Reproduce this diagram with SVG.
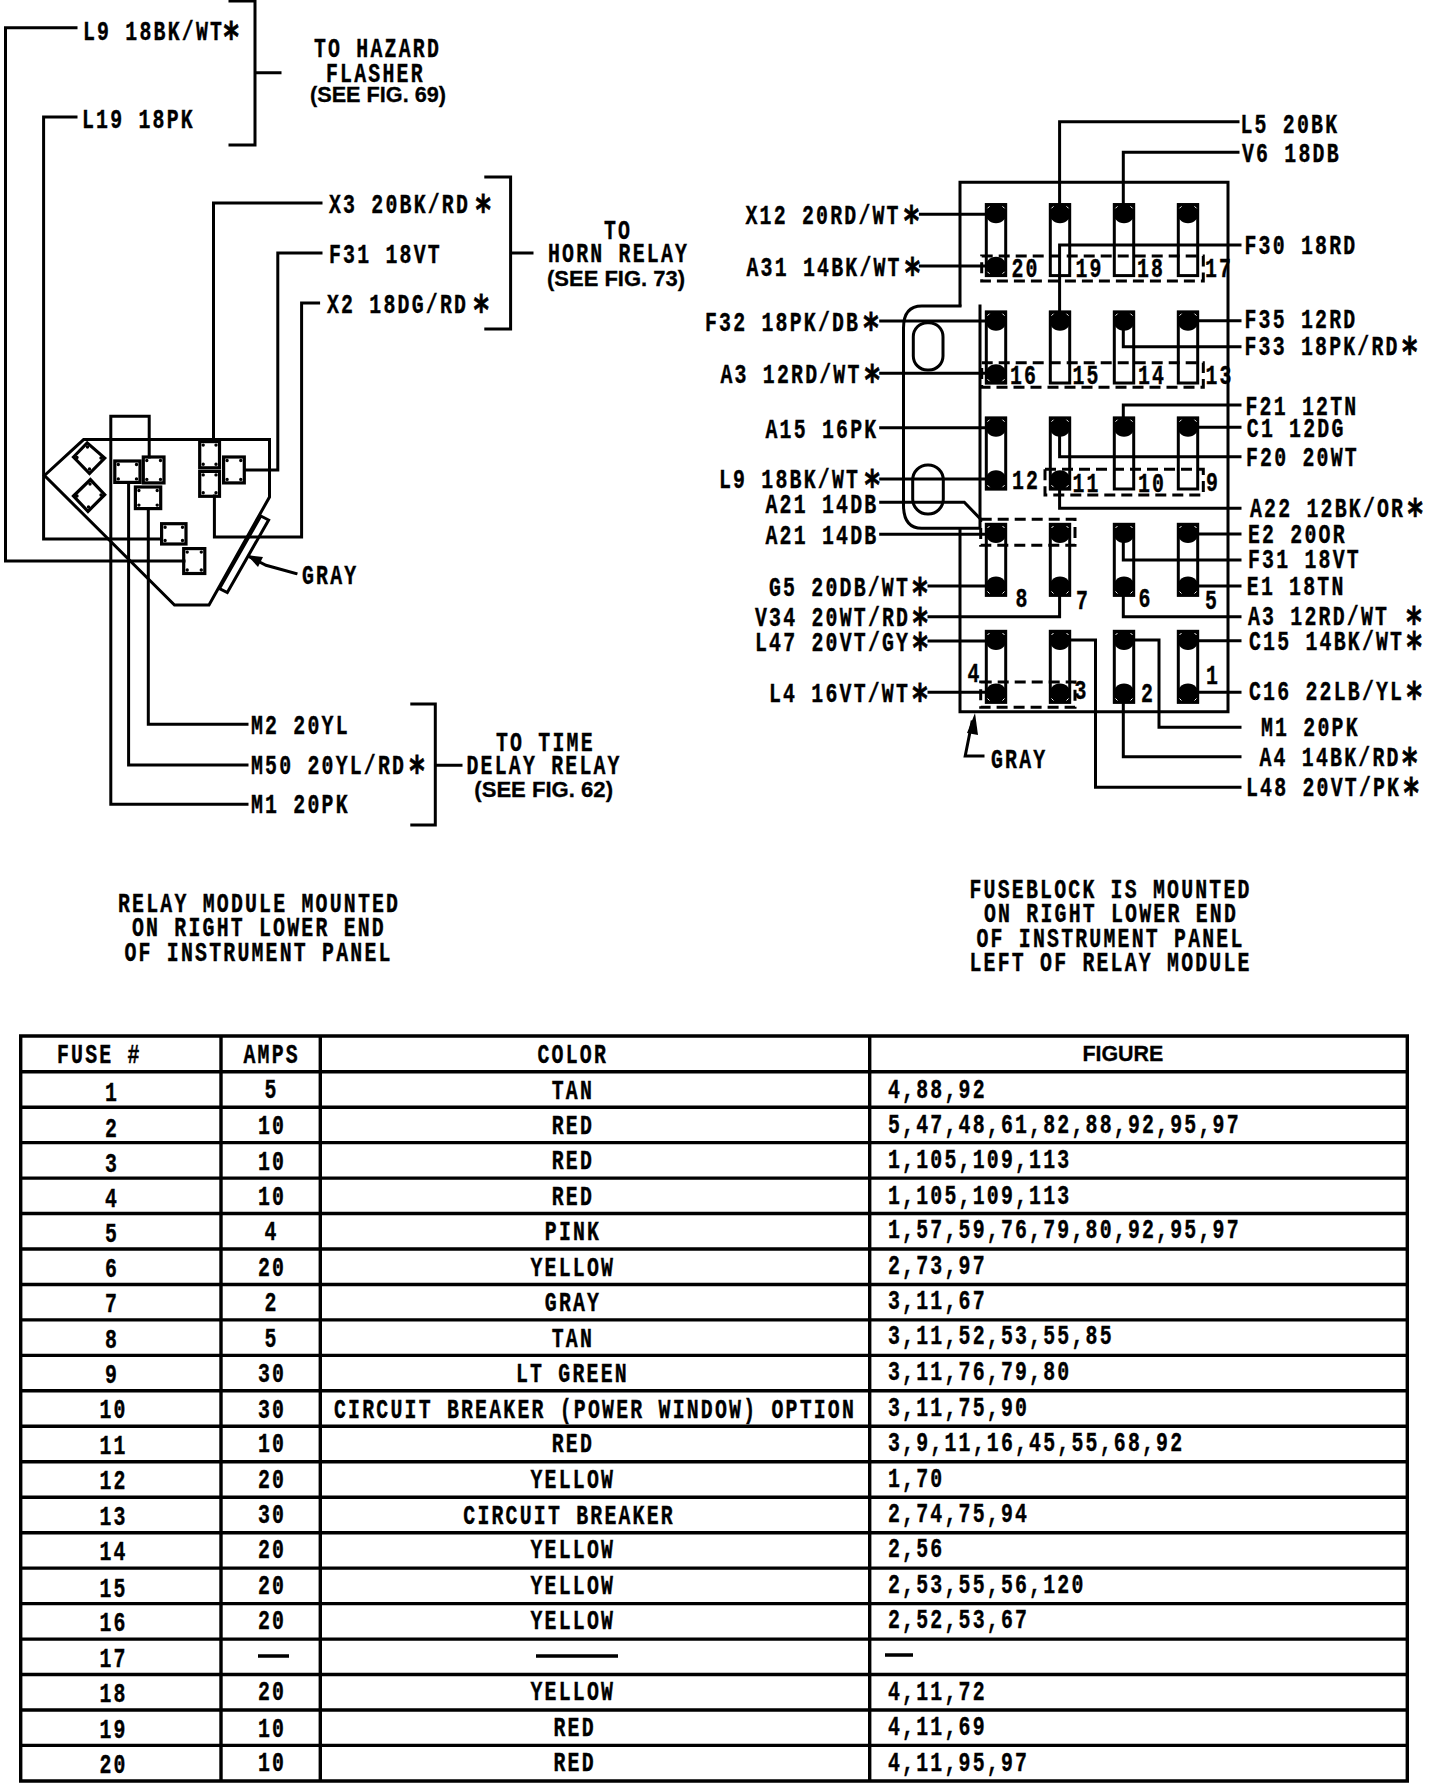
<svg xmlns="http://www.w3.org/2000/svg" width="1440" height="1784" viewBox="0 0 1440 1784">
<style>
.w{fill:none;stroke:#000;stroke-width:3;stroke-linejoin:miter;stroke-linecap:square}
.d{fill:none;stroke:#000;stroke-width:3;stroke-dasharray:11 6}
.b{fill:none;stroke:#000;stroke-width:3.2}
.n{fill:none;stroke:#000;stroke-width:3.4;stroke-linecap:round}
.f{fill:#000}
.tl{fill:none;stroke:#000;stroke-width:3.4}
text{fill:#000;white-space:pre}
.m{font-family:"Liberation Mono",monospace;font-weight:700;font-size:27px;letter-spacing:3px;stroke:#000;stroke-width:.4}
.m text{transform-box:fill-box;transform-origin:0 0;transform:translateX(1px) scaleX(.735)}
.m text.s{font-family:"Liberation Sans",Arial,sans-serif;font-size:22px;letter-spacing:0;stroke-width:.3;transform:none}
.a{font-family:"DejaVu Sans",sans-serif;font-size:40px;stroke-width:.7}
</style>
<defs>
<rect id="fz" x="1.3" y="1.3" width="19.4" height="71" class="w"/>
<g id="top"><path d="M0 0h22v9a11 11 0 0 1-22 0z" class="f"/><path d="M2.5 5l2-2M19.500 5l-2-2" stroke="#fff" stroke-width="1"/></g>
<g id="bot"><path d="M0 73.500h22v-9a11 11 0 0 0-22 0z" class="f"/><path d="M2.500 68.500l2 2M19.500 68.500l-2 2" stroke="#fff" stroke-width="1"/></g>
</defs>
<rect width="1440" height="1784" fill="#fff"/>

<g id="connectors">
<path class="w" d="M76 27.800H5.500V561H184"/>
<path class="w" d="M76 117H43.600V539H161"/>
<path class="w" d="M321 203H213.500V441"/>
<path class="w" d="M321 253H277.800V470H245.600"/>
<path class="w" d="M318.600 303H301.600V537H214.400V496"/>
<path class="w" d="M149.200 457V416.300H110.800V804.300H247"/>
<path class="w" d="M128.600 482.400V765H247"/>
<path class="w" d="M148.300 508.600V724.300H247"/>
<path class="w" d="M230 1H255V145H230M255 72.700H280"/>
<path class="w" d="M485.800 177H510.600V329H485.800M510.600 253H532"/>
<path class="w" d="M411.800 704H435.300V825H411.800M435.300 765.300H461"/>
<path class="w" d="M296 573.500L266 565.300L250 557"/>
<path class="f" d="M247 555L263 557L258 567z"/>
<path class="w" d="M1238 121.700H1059.600V203"/>
<path class="w" d="M1238 152.300H1123.300V203"/>
<path class="w" d="M1240 245H1059.600V311"/>
<path class="w" d="M1188 320.700H1240"/>
<path class="w" d="M1123.300 325V346.700H1240"/>
<path class="w" d="M1123.300 417V405H1240"/>
<path class="w" d="M1188 427.300H1240"/>
<path class="w" d="M1059.600 430V456.700H1240"/>
<path class="w" d="M1059.600 485V508.300H1240"/>
<path class="w" d="M1188 534H1240"/>
<path class="w" d="M1123.300 535V560H1240"/>
<path class="w" d="M1188 586H1240"/>
<path class="w" d="M1123.300 597V616.700H1240"/>
<path class="w" d="M1188 640.700H1240"/>
<path class="w" d="M1188 692.300H1240"/>
<path class="w" d="M1134 640H1159V727.300H1240"/>
<path class="w" d="M1123.300 704V756.700H1240"/>
<path class="w" d="M1070.500 640H1095.500V787.300H1240"/>
<path class="w" d="M920.400 214.300H985"/>
<path class="w" d="M920.400 266H985"/>
<path class="w" d="M880.700 321H985"/>
<path class="w" d="M880.700 373.300H985"/>
<path class="w" d="M880.700 427.700H985"/>
<path class="w" d="M880.700 479H985"/>
<path class="w" d="M880.700 502.300H964.300L980.800 519.300"/>
<path class="w" d="M880.700 534.300H985"/>
<path class="w" d="M929 586H985"/>
<path class="w" d="M929 616.700H1059.600V597"/>
<path class="w" d="M929 641H985"/>
<path class="w" d="M929 692.300H985"/>
<path class="w" d="M983 756H965.200L972 722"/>
<path class="f" d="M975 713L978 735L967 733z"/>
</g>

<g id="relay-module">
<path class="w" d="M83.600 439.600H269.500V497L209 605H174.500L44.500 475.500z"/>
<path class="w" d="M260.800 516L268.600 520L227.300 592.600L219.500 588.600z"/>
<path class="b" d="M73.500 457L87.200 442.900L104.700 458L89.500 473.500z"/>
<path class="b" d="M73.500 496L90.400 479.600L104.700 494.700L88 511.400z"/>
<rect class="b" x="114.800" y="461" width="25.200" height="21.400"/>
<rect class="b" x="143.300" y="457" width="20.700" height="25.900"/>
<rect class="b" x="135.400" y="487" width="25.300" height="21.600"/>
<rect class="b" x="161.600" y="523.700" width="24.400" height="20.300"/>
<rect class="b" x="183.700" y="548.600" width="21.100" height="24.900"/>
<rect class="b" x="199.700" y="441.600" width="19.800" height="26.200"/>
<rect class="b" x="199.700" y="471.400" width="19.800" height="24.900"/>
<rect class="b" x="223.600" y="457" width="20.700" height="25.900"/>
<path class="n" d="M118.300 464.500h0M136.500 464.500h0M118.300 478.900h0M136.500 478.900h0M146.800 460.500h0M160.500 460.500h0M146.800 479.400h0M160.500 479.400h0M138.900 490.500h0M157.200 490.500h0M138.900 505.100h0M157.200 505.100h0M165.100 527.200h0M182.500 527.200h0M165.100 540.500h0M182.500 540.500h0M187.200 552.100h0M201.300 552.100h0M187.200 570h0M201.300 570h0M203.200 445.100h0M216 445.100h0M203.200 464.300h0M216 464.300h0M203.200 474.900h0M216 474.900h0M203.200 492.800h0M216 492.800h0M227.100 460.500h0M240.800 460.500h0M227.100 479.400h0M240.800 479.400h0M77 457.500h0M87.500 447h0M101 458h0M89.500 469h0M77 496h0M90 484h0M101 495h0M88.500 507h0"/>
</g>

<g id="fuse-block">
<path class="w" d="M960 305V182.300H1228V711.700H960V530"/>
<path class="w" d="M960 306H921.800Q903.500 306 903.500 328V505Q903.500 528.300 921.700 528.300H980V306"/>
<rect class="w" x="913.300" y="322.700" width="29.700" height="47.300" rx="14"/>
<rect class="w" x="912.700" y="465" width="30.600" height="49" rx="15"/>
<rect class="d" x="981.700" y="256" width="221.600" height="25"/>
<rect class="d" x="981.700" y="362.700" width="221.600" height="24.600"/>
<rect class="d" x="1045" y="469.300" width="158.300" height="25.700"/>
<rect class="d" x="980.700" y="519.300" width="94.300" height="26"/>
<rect class="d" x="980.700" y="682" width="94.300" height="25.300"/>
</g>
<g id="fuse-20" transform="translate(985 203.300)"><use href="#fz"/><use href="#top"/><use href="#bot"/></g>
<g id="fuse-19" transform="translate(1049 203.300)"><use href="#fz"/><use href="#top"/></g>
<g id="fuse-18" transform="translate(1113 203.300)"><use href="#fz"/><use href="#top"/></g>
<g id="fuse-17" transform="translate(1177 203.300)"><use href="#fz"/><use href="#top"/></g>
<g id="fuse-16" transform="translate(985 310.700)"><use href="#fz"/><use href="#top"/><use href="#bot"/></g>
<g id="fuse-15" transform="translate(1049 310.700)"><use href="#fz"/><use href="#top"/></g>
<g id="fuse-14" transform="translate(1113 310.700)"><use href="#fz"/><use href="#top"/></g>
<g id="fuse-13" transform="translate(1177 310.700)"><use href="#fz"/><use href="#top"/></g>
<g id="fuse-12" transform="translate(985 416.700)"><use href="#fz"/><use href="#top"/><use href="#bot"/></g>
<g id="fuse-11" transform="translate(1049 416.700)"><use href="#fz"/><use href="#top"/><use href="#bot"/></g>
<g id="fuse-10" transform="translate(1113 416.700)"><use href="#fz"/><use href="#top"/></g>
<g id="fuse-9" transform="translate(1177 416.700)"><use href="#fz"/><use href="#top"/></g>
<g id="fuse-8" transform="translate(985 523)"><use href="#fz"/><use href="#top"/><use href="#bot"/></g>
<g id="fuse-7" transform="translate(1049 523)"><use href="#fz"/><use href="#top"/><use href="#bot"/></g>
<g id="fuse-6" transform="translate(1113 523)"><use href="#fz"/><use href="#top"/><use href="#bot"/></g>
<g id="fuse-5" transform="translate(1177 523)"><use href="#fz"/><use href="#top"/><use href="#bot"/></g>
<g id="fuse-4" transform="translate(985 630)"><use href="#fz"/><use href="#top"/><use href="#bot"/></g>
<g id="fuse-3" transform="translate(1049 630)"><use href="#fz"/><use href="#top"/><use href="#bot"/></g>
<g id="fuse-2" transform="translate(1113 630)"><use href="#fz"/><use href="#top"/><use href="#bot"/></g>
<g id="fuse-1" transform="translate(1177 630)"><use href="#fz"/><use href="#top"/><use href="#bot"/></g>

<g id="labels" class="m">
<text x="82" y="39.600">L9 18BK/WT<tspan class="a" dx="-1" dy="11">*</tspan></text>
<text x="81" y="127.800">L19 18PK</text>
<text x="313" y="57">TO HAZARD</text>
<text x="325" y="81.600">FLASHER</text>
<text class="s" x="310" y="102" textLength="136" lengthAdjust="spacingAndGlyphs">(SEE FIG. 69)</text>
<text x="328" y="213">X3 20BK/RD <tspan class="a" dx="-12" dy="11">*</tspan></text>
<text x="328" y="263">F31 18VT</text>
<text x="326" y="313">X2 18DG/RD <tspan class="a" dx="-12" dy="11">*</tspan></text>
<text x="603" y="238.800">TO</text>
<text x="547" y="262.400">HORN RELAY</text>
<text class="s" x="547" y="285.700" textLength="138" lengthAdjust="spacingAndGlyphs">(SEE FIG. 73)</text>
<text x="301" y="584.500">GRAY</text>
<text x="250" y="734.300">M2 20YL</text>
<text x="250" y="774.300">M50 20YL/RD<tspan class="a" dx="4" dy="11">*</tspan></text>
<text x="250" y="813.300">M1 20PK</text>
<text x="495" y="750.700">TO TIME</text>
<text x="465.500" y="774.300">DELAY RELAY</text>
<text class="s" x="474.300" y="796.700" textLength="138.700" lengthAdjust="spacingAndGlyphs">(SEE FIG. 62)</text>
<text x="117" y="911.700">RELAY MODULE MOUNTED</text>
<text x="131" y="936">ON RIGHT LOWER END</text>
<text x="123.500" y="960.700">OF INSTRUMENT PANEL</text>

<text x="1239.500" y="132.700">L5 20BK</text>
<text x="1241" y="162.300">V6 18DB</text>
<text x="1243.500" y="254">F30 18RD</text>
<text x="1243.500" y="328.300">F35 12RD</text>
<text x="1243.500" y="355">F33 18PK/RD<tspan class="a" dx="3" dy="11">*</tspan></text>
<text x="1244.500" y="415">F21 12TN</text>
<text x="1245.800" y="437.300">C1 12DG</text>
<text x="1245" y="466">F20 20WT</text>
<text x="1249" y="516.700">A22 12BK/OR<tspan class="a" dx="3" dy="11">*</tspan></text>
<text x="744.500" y="224">X12 20RD/WT<tspan class="a" dx="4" dy="11">*</tspan></text>
<text x="745.500" y="275.700">A31 14BK/WT<tspan class="a" dx="4" dy="11">*</tspan></text>
<text x="704" y="330.700">F32 18PK/DB<tspan class="a" dx="4" dy="11">*</tspan></text>
<text x="719.500" y="382.700">A3 12RD/WT<tspan class="a" dx="4" dy="11">*</tspan></text>
<text x="764.500" y="438">A15 16PK</text>
<text x="718" y="488">L9 18BK/WT<tspan class="a" dx="6" dy="11">*</tspan></text>
<text x="764.500" y="513.300">A21 14DB</text>
<text x="764.500" y="544.300">A21 14DB</text>
<text x="768" y="595.700">G5 20DB/WT<tspan class="a" dx="3" dy="11">*</tspan></text>
<text x="754" y="626">V34 20WT/RD<tspan class="a" dx="3" dy="11">*</tspan></text>
<text x="754" y="651">L47 20VT/GY<tspan class="a" dx="3" dy="11">*</tspan></text>
<text x="768" y="702.300">L4 16VT/WT<tspan class="a" dx="3" dy="11">*</tspan></text>
<text x="1247" y="543.300">E2 20OR</text>
<text x="1247" y="568.300">F31 18VT</text>
<text x="1245.800" y="595">E1 18TN</text>
<text x="1247" y="625">A3 12RD/WT <tspan class="a" dx="4" dy="11">*</tspan></text>
<text x="1248" y="650">C15 14BK/WT<tspan class="a" dx="3" dy="11">*</tspan></text>
<text x="1248" y="700">C16 22LB/YL<tspan class="a" dx="3" dy="11">*</tspan></text>
<text x="1260" y="735.700">M1 20PK</text>
<text x="1258.500" y="765.700">A4 14BK/RD<tspan class="a" dx="2" dy="11">*</tspan></text>
<text x="1245" y="795.700">L48 20VT/PK<tspan class="a" dx="3" dy="11">*</tspan></text>
<text x="990" y="768.300">GRAY</text>
<text x="968.500" y="898.300">FUSEBLOCK IS MOUNTED</text>
<text x="983" y="922.300">ON RIGHT LOWER END</text>
<text x="975.500" y="946.700">OF INSTRUMENT PANEL</text>
<text x="968.500" y="970.700">LEFT OF RELAY MODULE</text>
</g>

<g id="fuse-numbers" class="m">
<text x="1010.500" y="277.300">20</text>
<text x="1074.500" y="277.300">19</text>
<text x="1136" y="277.300">18</text>
<text x="1204" y="277.300">17</text>
<text x="1009" y="384.300">16</text>
<text x="1071.500" y="384.300">15</text>
<text x="1137" y="384.300">14</text>
<text x="1204.500" y="384.300">13</text>
<text x="1011" y="489">12</text>
<text x="1071.500" y="491.700">11</text>
<text x="1137" y="491.700">10</text>
<text x="1205" y="490.700">9</text>
<text x="1014.500" y="607.300">8</text>
<text x="1075" y="609">7</text>
<text x="1137.500" y="607.300">6</text>
<text x="1204" y="609.300">5</text>
<text x="966.500" y="681.700">4</text>
<text x="1073.500" y="699.300">3</text>
<text x="1140" y="701.700">2</text>
<text x="1205" y="684">1</text>
</g>

<g id="table">
<path class="tl" d="M20.700 1036H1407.300V1781H20.700zM221 1036V1781M320.300 1036V1781M869.700 1036V1781"/>
<path class="tl" d="M20.700 1071.700H1407.300M20.700 1107.200H1407.300M20.700 1142.600H1407.300M20.700 1178.100H1407.300M20.700 1213.500H1407.300M20.700 1249H1407.300M20.700 1284.500H1407.300M20.700 1319.900H1407.300M20.700 1355.400H1407.300M20.700 1390.800H1407.300M20.700 1426.300H1407.300M20.700 1461.800H1407.300M20.700 1497.200H1407.300M20.700 1532.700H1407.300M20.700 1568.100H1407.300M20.700 1603.600H1407.300M20.700 1639.100H1407.300M20.700 1674.500H1407.300M20.700 1710H1407.300M20.700 1745.400H1407.300"/>
<path class="tl" d="M258 1656H289M536 1656H618M885 1655H913"/>
<g class="m">
<text x="56" y="1063.300">FUSE #</text>
<text x="242.500" y="1063.300">AMPS</text>
<text x="536.500" y="1063.300">COLOR</text>
<text class="s" x="1082.400" y="1060.700" textLength="81" lengthAdjust="spacingAndGlyphs">FIGURE</text>
<text x="104" y="1101">1</text>
<text x="104" y="1136.700">2</text>
<text x="104" y="1171.700">3</text>
<text x="104" y="1206.700">4</text>
<text x="104" y="1241.700">5</text>
<text x="104" y="1277">6</text>
<text x="104" y="1312">7</text>
<text x="104" y="1348">8</text>
<text x="104" y="1383.300">9</text>
<text x="98.500" y="1418.300">10</text>
<text x="98.500" y="1454.300">11</text>
<text x="98.500" y="1489.300">12</text>
<text x="98.500" y="1525">13</text>
<text x="98.500" y="1560">14</text>
<text x="98.500" y="1596.700">15</text>
<text x="98.500" y="1631">16</text>
<text x="98.500" y="1666.700">17</text>
<text x="98.500" y="1702.300">18</text>
<text x="98.500" y="1737.700">19</text>
<text x="98.500" y="1772.700">20</text>
<text x="263.500" y="1098.300">5</text>
<text x="257" y="1134.300">10</text>
<text x="257" y="1169.700">10</text>
<text x="257" y="1205">10</text>
<text x="263.500" y="1240">4</text>
<text x="257" y="1276">20</text>
<text x="263.500" y="1311">2</text>
<text x="263.500" y="1346.700">5</text>
<text x="257" y="1382.300">30</text>
<text x="257" y="1418.300">30</text>
<text x="257" y="1452.300">10</text>
<text x="257" y="1488.300">20</text>
<text x="257" y="1522.700">30</text>
<text x="257" y="1558.300">20</text>
<text x="257" y="1594.300">20</text>
<text x="257" y="1629.300">20</text>
<text x="257" y="1700">20</text>
<text x="257" y="1736.700">10</text>
<text x="257" y="1771">10</text>
<text x="550.700" y="1098.700">TAN</text>
<text x="550.700" y="1134.300">RED</text>
<text x="550.700" y="1169.300">RED</text>
<text x="550.700" y="1204.700">RED</text>
<text x="543.800" y="1240">PINK</text>
<text x="529.500" y="1275.700">YELLOW</text>
<text x="543.800" y="1311">GRAY</text>
<text x="550.700" y="1346.700">TAN</text>
<text x="515" y="1381.700">LT GREEN</text>
<text x="333" y="1418.300">CIRCUIT BREAKER (POWER WINDOW) OPTION</text>
<text x="550.700" y="1452.300">RED</text>
<text x="529.500" y="1487.700">YELLOW</text>
<text x="462.300" y="1524.300">CIRCUIT BREAKER</text>
<text x="529.500" y="1558.300">YELLOW</text>
<text x="529.500" y="1593.700">YELLOW</text>
<text x="529.500" y="1629">YELLOW</text>
<text x="529.500" y="1700">YELLOW</text>
<text x="552.500" y="1736">RED</text>
<text x="552.500" y="1771">RED</text>
<text x="887" y="1097.700">4,88,92</text>
<text x="887" y="1132.700">5,47,48,61,82,88,92,95,97</text>
<text x="887" y="1168.300">1,105,109,113</text>
<text x="887" y="1204">1,105,109,113</text>
<text x="887" y="1238.300">1,57,59,76,79,80,92,95,97</text>
<text x="887" y="1274">2,73,97</text>
<text x="887" y="1309.300">3,11,67</text>
<text x="887" y="1344.300">3,11,52,53,55,85</text>
<text x="887" y="1380">3,11,76,79,80</text>
<text x="887" y="1415.700">3,11,75,90</text>
<text x="887" y="1451">3,9,11,16,45,55,68,92</text>
<text x="887" y="1487">1,70</text>
<text x="887" y="1522">2,74,75,94</text>
<text x="887" y="1557">2,56</text>
<text x="887" y="1593">2,53,55,56,120</text>
<text x="887" y="1628">2,52,53,67</text>
<text x="887" y="1700">4,11,72</text>
<text x="887" y="1735">4,11,69</text>
<text x="887" y="1771">4,11,95,97</text>
</g>
</g>
</svg>
